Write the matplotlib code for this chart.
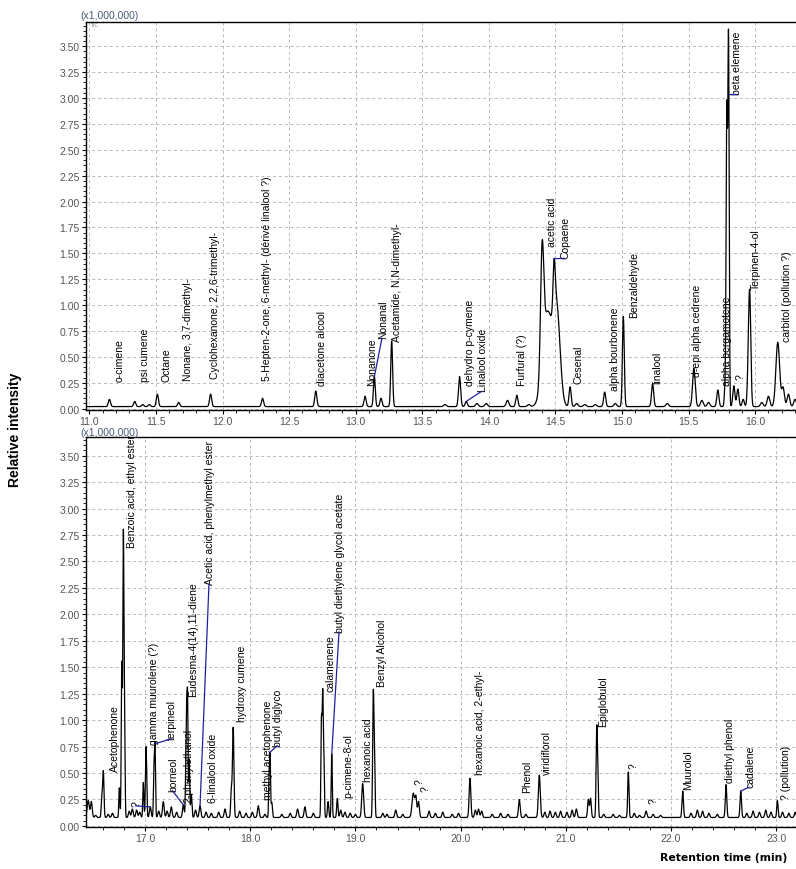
import numpy as np
import matplotlib
matplotlib.use('Agg')
import matplotlib.pyplot as plt
from matplotlib.ticker import MultipleLocator, FormatStrFormatter

narrow = ['Liberation Sans Narrow', 'Liberation Sans', 'DejaVu Sans']

# ---- top chromatogram (11 - 16.3 min) ----
top_base = 0.02
top_rt = [11.15, 11.34, 11.40, 11.45, 11.51, 11.67, 11.91, 12.30, 12.70, 13.07,
          13.14, 13.19, 13.27, 13.67, 13.78, 13.83, 13.91, 13.98, 14.14, 14.21,
          14.30, 14.40, 14.44, 14.49, 14.51, 14.61, 14.66, 14.72, 14.80, 14.87,
          14.95, 15.01, 15.23, 15.34, 15.54, 15.60, 15.65, 15.72, 15.775, 15.787,
          15.80, 15.84, 15.87, 15.91, 15.95, 15.96, 16.05, 16.10, 16.17, 16.21,
          16.25, 16.30]
top_h = [0.07, 0.05, 0.02, 0.02, 0.12, 0.04, 0.12, 0.08, 0.15, 0.10,
         0.29, 0.08, 0.63, 0.02, 0.29, 0.05, 0.03, 0.03, 0.06, 0.11,
         0.02, 1.13, 0.90, 0.45, 0.90, 0.19, 0.03, 0.02, 0.02, 0.14,
         0.03, 0.87, 0.22, 0.03, 0.37, 0.06, 0.04, 0.16, 0.20, 2.80,
         3.55, 0.20, 0.17, 0.07, 0.35, 0.95, 0.04, 0.10, 0.62, 0.18,
         0.12, 0.07]
top_w = [0.008, 0.008, 0.008, 0.008, 0.008, 0.008, 0.008, 0.008, 0.008, 0.008,
         0.007, 0.008, 0.007, 0.010, 0.008, 0.008, 0.010, 0.010, 0.010, 0.008,
         0.010, 0.012, 0.035, 0.008, 0.025, 0.008, 0.010, 0.010, 0.010, 0.008,
         0.010, 0.007, 0.008, 0.010, 0.010, 0.010, 0.010, 0.008, 0.006, 0.005,
         0.005, 0.008, 0.008, 0.008, 0.008, 0.008, 0.010, 0.010, 0.014, 0.010,
         0.010, 0.010]

top_names = ['o-cimene', 'psi cumene', 'Octane', 'Nonane, 3,7-dimethyl-',
             'Cyclohexanone, 2,2,6-trimethyl-',
             '5-Hepten-2-one, 6-methyl- (dérivé linalool ?)',
             'diacetone alcool', 'Nonanone', 'Nonanal', 'Acetamide, N,N-dimethyl-',
             'dehydro p-cymene', 'Linalool oxide', 'Furfural (?)', 'acetic acid',
             'Copaene', 'Cesenal', 'alpha bourbonene', 'Benzaldehyde', 'linalool',
             'd-epi alpha cedrene', 'alpha bergamotene', 'beta elemene', '?',
             'Terpinen-4-ol', 'carbitol (pollution ?)']
top_lab_rt = [11.229, 11.417, 11.580, 11.741, 11.944, 12.332, 12.746, 13.122, 13.207,
              13.310, 13.861, 13.956, 14.250, 14.475, 14.575, 14.671, 14.951, 15.089,
              15.265, 15.565, 15.791, 15.866, 15.89, 16.004, 16.242]
top_lab_y = [0.267, 0.267, 0.267, 0.279, 0.296, 0.279, 0.231, 0.231, 0.681, 0.652,
             0.231, 0.168, 0.231, 1.567, 1.452, 0.248, 0.183, 0.890, 0.248, 0.312,
             0.231, 3.041, 0.29, 1.160, 0.649]
# label index -> retention time of the peak it points to
top_leaders = {8: 13.14, 11: 13.83, 14: 14.49, 21: 15.80}

# ---- bottom chromatogram (16.4 - 23.2 min) ----
bot_base = 0.08
bot_rt = [16.46, 16.49, 16.53, 16.59, 16.604, 16.65, 16.69, 16.756, 16.779, 16.794,
          16.805, 16.85, 16.88, 16.92, 16.95, 16.984, 17.01, 17.05, 17.085, 17.095,
          17.13, 17.174, 17.21, 17.25, 17.30, 17.364, 17.386, 17.396, 17.405, 17.42,
          17.44, 17.48, 17.523, 17.58, 17.63, 17.70, 17.76, 17.82, 17.838, 17.90,
          17.96, 18.02, 18.077, 18.14, 18.178, 18.188, 18.205, 18.30, 18.38, 18.45,
          18.52, 18.60, 18.677, 18.689, 18.70, 18.74, 18.775, 18.828, 18.86, 18.90,
          18.95, 19.00, 19.069, 19.170, 19.182, 19.26, 19.30, 19.383, 19.45, 19.55,
          19.575, 19.60, 19.70, 19.76, 19.83, 19.92, 19.98, 20.089, 20.14, 20.17,
          20.20, 20.30, 20.38, 20.45, 20.558, 20.62, 20.748, 20.80, 20.85, 20.90,
          20.95, 21.01, 21.06, 21.10, 21.214, 21.235, 21.294, 21.305, 21.36, 21.45,
          21.51, 21.594, 21.65, 21.70, 21.763, 21.83, 21.90, 22.111, 22.19, 22.25,
          22.30, 22.36, 22.44, 22.523, 22.663, 22.72, 22.78, 22.84, 22.90, 22.95,
          23.011, 23.06, 23.12, 23.18]
bot_h = [0.16, 0.15, 0.02, 0.20, 0.43, 0.03, 0.04, 0.28, 1.45, 2.62,
         1.00, 0.06, 0.08, 0.07, 0.05, 0.33, 0.67, 0.10, 0.42, 0.64,
         0.06, 0.15, 0.06, 0.10, 0.05, 0.12, 0.30, 1.05, 0.95, 0.55,
         0.22, 0.07, 0.11, 0.05, 0.04, 0.05, 0.08, 0.25, 0.85, 0.06,
         0.04, 0.05, 0.11, 0.03, 0.33, 0.60, 0.14, 0.03, 0.04, 0.08,
         0.10, 0.04, 0.90, 1.12, 0.55, 0.15, 0.60, 0.18, 0.07, 0.05,
         0.04, 0.03, 0.32, 1.18, 0.55, 0.04, 0.03, 0.07, 0.03, 0.23,
         0.18, 0.15, 0.06, 0.04, 0.05, 0.03, 0.04, 0.37, 0.07, 0.08,
         0.06, 0.03, 0.04, 0.03, 0.17, 0.03, 0.40, 0.05, 0.06, 0.05,
         0.06, 0.05, 0.07, 0.08, 0.17, 0.18, 0.84, 0.35, 0.03, 0.03,
         0.02, 0.43, 0.04, 0.02, 0.06, 0.03, 0.02, 0.25, 0.04, 0.07,
         0.06, 0.04, 0.03, 0.31, 0.25, 0.04, 0.06, 0.05, 0.07, 0.05,
         0.16, 0.05, 0.04, 0.05]
bot_w = [0.010, 0.008, 0.008, 0.006, 0.006, 0.008, 0.008, 0.005, 0.005, 0.005,
         0.005, 0.008, 0.008, 0.008, 0.008, 0.005, 0.006, 0.008, 0.005, 0.005,
         0.008, 0.008, 0.008, 0.008, 0.008, 0.008, 0.004, 0.005, 0.004, 0.005,
         0.006, 0.008, 0.008, 0.008, 0.008, 0.008, 0.008, 0.006, 0.007, 0.008,
         0.008, 0.008, 0.008, 0.008, 0.004, 0.005, 0.006, 0.008, 0.008, 0.008,
         0.008, 0.008, 0.005, 0.005, 0.005, 0.006, 0.005, 0.006, 0.008, 0.008,
         0.008, 0.008, 0.009, 0.006, 0.005, 0.008, 0.008, 0.008, 0.008, 0.012,
         0.008, 0.008, 0.008, 0.008, 0.008, 0.008, 0.008, 0.008, 0.008, 0.008,
         0.008, 0.008, 0.008, 0.008, 0.008, 0.008, 0.009, 0.008, 0.008, 0.008,
         0.008, 0.008, 0.008, 0.008, 0.007, 0.007, 0.006, 0.005, 0.008, 0.008,
         0.008, 0.006, 0.008, 0.008, 0.008, 0.008, 0.008, 0.007, 0.008, 0.008,
         0.008, 0.008, 0.008, 0.007, 0.007, 0.008, 0.008, 0.008, 0.008, 0.008,
         0.006, 0.008, 0.008, 0.008]

bot_names = ['Acetophenone', 'Benzoic acid, ethyl ester', '?', 'gamma muurolene (?)',
             'terpineol', 'borneol', '2-phenylethanol', 'Eudesma-4(14),11-diene',
             'Acetic acid, phenylmethyl ester', '6-linalool oxide', 'hydroxy cumene',
             'methyl acetophenone', 'butyl diglyco', 'calamenene',
             'butyl diethylene glycol acetate', 'p-cimene-8-ol', 'hexanoic acid',
             'Benzyl Alcohol', '?', '?', 'hexanoic acid, 2-ethyl-', 'Phenol',
             'viridiflorol', 'Epiglobulol', '?', '?', 'Muurolol', 'diethyl phenol',
             'cadalene', '? (pollution)']
bot_lab_rt = [16.715, 16.874, 16.921, 17.086, 17.254, 17.270, 17.410, 17.459, 17.618,
              17.649, 17.919, 18.172, 18.267, 18.759, 18.854, 18.933, 19.123, 19.250,
              19.614, 19.671, 20.184, 20.628, 20.818, 21.357, 21.640, 21.830, 22.165,
              22.561, 22.751, 23.093]
bot_lab_y = [0.523, 2.634, 0.19, 0.775, 0.822, 0.334, 0.227, 1.232, 2.287, 0.227,
             0.995, 0.255, 0.759, 1.279, 1.834, 0.271, 0.428, 1.326, 0.40, 0.33,
             0.491, 0.319, 0.491, 0.948, 0.55, 0.22, 0.350, 0.413, 0.366, 0.255]
bot_leaders = {2: 17.05, 4: 17.095, 5: 17.364, 8: 17.523, 12: 18.188, 14: 18.775, 28: 22.663}


def chromatogram(x, base, rts, hs, ws):
    y = np.full_like(x, base)
    for r, h, w in zip(rts, hs, ws):
        y += h * np.exp(-0.5 * ((x - r) / w) ** 2)
    return y


fig = plt.figure(figsize=(7.96, 8.70), dpi=100)
ax_top = fig.add_axes([86 / 796, 459.3 / 870, 716 / 796, 388 / 870])
ax_bot = fig.add_axes([86 / 796, 42 / 870, 716 / 796, 390 / 870])

panels = [
    (ax_top, (10.974, 16.352), (-0.01, 3.737), 0.5, 0.1, top_base, top_rt, top_h, top_w,
     top_names, top_lab_rt, top_lab_y, top_leaders),
    (ax_bot, (16.439, 23.245), (-0.01, 3.677), 1.0, 0.2, bot_base, bot_rt, bot_h, bot_w,
     bot_names, bot_lab_rt, bot_lab_y, bot_leaders),
]

for ax, xl, yl, xmaj, xmin, base, rts, hs, ws, names, lrt, ly, leads in panels:
    x = np.arange(xl[0], xl[1], 0.001)
    y = chromatogram(x, base, rts, hs, ws)
    ax.plot(x, y, color='black', lw=0.9, zorder=3)

    for i, (name, r, v) in enumerate(zip(names, lrt, ly)):
        ax.text(r, v, name, rotation=90, ha='center', va='bottom', fontsize=7.5,
                family=narrow, color='black', zorder=4)
        if i in leads:
            pr = leads[i]
            py = min(np.interp(pr, x, y), v)
            ax.plot([pr, r - 0.01], [py, v], color='#2020a0', lw=0.9, zorder=4)

    ax.set_xlim(*xl)
    ax.set_ylim(*yl)
    ax.xaxis.set_major_locator(MultipleLocator(xmaj))
    ax.xaxis.set_minor_locator(MultipleLocator(xmin))
    ax.yaxis.set_major_locator(MultipleLocator(0.25))
    ax.yaxis.set_minor_locator(MultipleLocator(0.05))
    ax.xaxis.set_major_formatter(FormatStrFormatter('%.1f'))
    ax.yaxis.set_major_formatter(FormatStrFormatter('%.2f'))
    ax.grid(True, which='major', color='#b8b8b8', linestyle=(0, (3, 3)), lw=0.7, zorder=0)
    ax.tick_params(which='major', direction='out', length=3, width=0.8,
                   labelsize=7.5, labelcolor='#555555', pad=1.5)
    ax.tick_params(which='minor', direction='out', length=2, width=0.6)
    for lab in ax.get_xticklabels() + ax.get_yticklabels():
        lab.set_family(['Liberation Sans', 'DejaVu Sans'])
    for s in ax.spines.values():
        s.set_linewidth(1.0)

fig.text(80 / 796, 1 - 21 / 870, '(x1,000,000)', fontsize=7.5, color='#4a5a7a',
         family=['Liberation Sans', 'DejaVu Sans'], va='bottom', ha='left')
fig.text(80 / 796, 1 - 438 / 870, '(x1,000,000)', fontsize=7.5, color='#4a5a7a',
         family=['Liberation Sans', 'DejaVu Sans'], va='bottom', ha='left')
fig.text(90 / 796, 1 - 28 / 870, 'TIC', fontsize=3.5, color='#777777', va='bottom')

fig.text(15 / 796, 1 - 430 / 870, 'Relative intensity', rotation=90, fontsize=10,
         fontweight='bold', family=narrow, ha='center', va='center')
fig.text(724 / 796, 1 - 853 / 870, 'Retention time (min)', fontsize=7.8,
         fontweight='bold', ha='center', va='top')

fig.savefig('out.png', dpi=100)
